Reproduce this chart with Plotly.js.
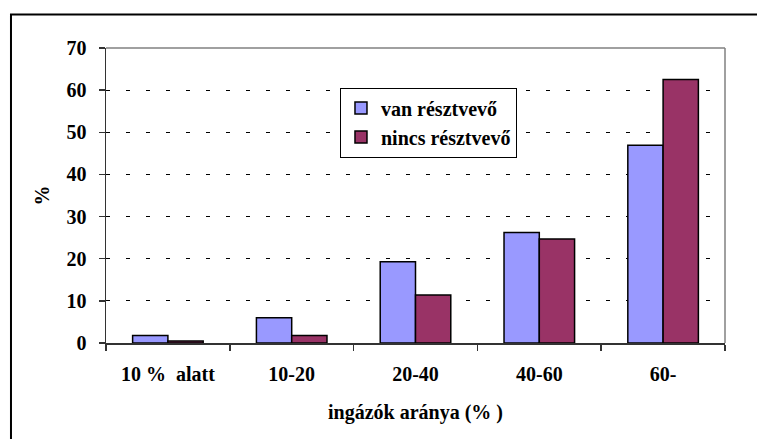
<!DOCTYPE html>
<html>
<head>
<meta charset="utf-8">
<script src="https://cdn.plot.ly/plotly-3.0.1.min.js"></script>
<style>
  html, body { margin: 0; padding: 0; background: #ffffff; }
  #chart { width: 757px; height: 439px; }
</style>
</head>
<body>
<div id="chart"></div>
<script>
const categories = ["10 %  alatt", "10-20", "20-40", "40-60", "60-"];
const vanValues = [1.8, 6.0, 19.3, 26.2, 46.9];
const nincsValues = [0.5, 1.8, 11.4, 24.7, 62.5];
const seriesNames = ["van résztvevő", "nincs résztvevő"];
const yTicks = [0, 10, 20, 30, 40, 50, 60, 70];
const xTitle = "ingázók aránya (% )";
const yTitle = "%";

const FONT = "Liberation Serif";
const FS = 20;

const traces = [
  {
    type: "bar", name: seriesNames[0], x: categories, y: vanValues,
    marker: { color: "#9999FF", line: { color: "#000000", width: 1.5 } }
  },
  {
    type: "bar", name: seriesNames[1], x: categories, y: nincsValues,
    marker: { color: "#993366", line: { color: "#000000", width: 1.5 } }
  }
];

const layout = {
  width: 757, height: 439,
  margin: { l: 106, r: 32, t: 48, b: 96 },
  paper_bgcolor: "#ffffff", plot_bgcolor: "#ffffff",
  font: { family: FONT, size: FS, color: "#000000", weight: "bold" },
  barmode: "group", bargap: 0.43, bargroupgap: 0,
  showlegend: true,
  legend: {
    x: 0.378, y: 0.866, xanchor: "left", yanchor: "top",
    bgcolor: "#ffffff", bordercolor: "#000000", borderwidth: 1,
    font: { family: FONT, size: FS, color: "#000000", weight: "bold" },
    traceorder: "normal"
  },
  xaxis: {
    type: "category",
    showline: true, linecolor: "#333333", linewidth: 1.5,
    ticks: "outside", tickson: "boundaries", ticklen: 6, tickcolor: "#333333", tickwidth: 1.5,
    ticklabelstandoff: 12,
    tickfont: { family: FONT, size: FS, weight: "bold", color: "#000000" },
    showgrid: false, zeroline: false,
    title: { text: xTitle, font: { family: FONT, size: FS, weight: "bold", color: "#000000" }, standoff: 21 }
  },
  yaxis: {
    range: [0, 70], tickvals: yTicks, ticktext: yTicks.map(String),
    showline: true, linecolor: "#333333", linewidth: 1.5,
    ticks: "outside", ticklen: 6, tickcolor: "#333333", tickwidth: 1.5,
    ticklabelstandoff: 8,
    tickfont: { family: FONT, size: FS, weight: "bold", color: "#000000" },
    showgrid: true, gridcolor: "#000000", gridwidth: 1, griddash: "4px,16px",
    zeroline: false,
    title: { text: yTitle, font: { family: FONT, size: FS, weight: "bold", color: "#000000" }, standoff: 11 }
  },
  shapes: [
    { type: "line", xref: "paper", yref: "paper", x0: 0, x1: 1, y0: 1, y1: 1,
      line: { color: "#808080", width: 1.5 } },
    { type: "line", xref: "paper", yref: "paper", x0: 1, x1: 1, y0: 0, y1: 1,
      line: { color: "#808080", width: 1.5 } },
    { type: "rect", xref: "paper", yref: "paper", x0: -0.1535, x1: 1.07, y0: -0.36, y1: 1.1135,
      line: { color: "#000000", width: 2 }, layer: "below" }
  ]
};

Plotly.newPlot("chart", traces, layout, { displayModeBar: false, staticPlot: true });
</script>
</body>
</html>
